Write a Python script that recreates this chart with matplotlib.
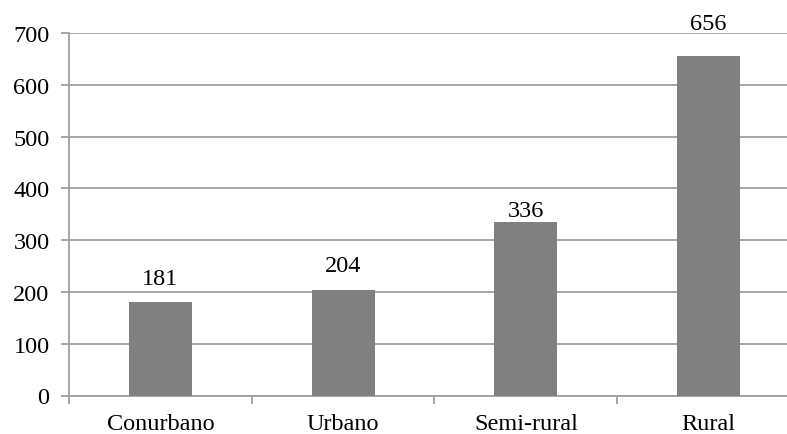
import matplotlib
matplotlib.use("Agg")
import matplotlib.pyplot as plt

categories = ["Conurbano", "Urbano", "Semi-rural", "Rural"]
values = [181, 204, 336, 656]
y_ticks = [0, 100, 200, 300, 400, 500, 600, 700]

# gap (points) between each bar top and its value label
label_gap = [9.4, 9.7, 0.3, 15.5]

plt.rcParams["font.family"] = ["Liberation Serif", "DejaVu Serif"]

W, H = 787, 435
FS = 17.5
fig = plt.figure(figsize=(W / 100, H / 100), dpi=100)
ax = fig.add_axes([69 / W, (H - 396.5) / H, 731 / W, (396.5 - 34) / H])

grid_color = "#a0a0a0"
x = list(range(len(categories)))
bars = ax.bar(x, values, width=0.345, color="#808080", zorder=3)
for xi, v, g in zip(x, values, label_gap):
    ax.annotate(str(v), (xi, v), xytext=(0, g), textcoords="offset points",
                ha="center", va="bottom", fontsize=FS, zorder=4,
                annotation_clip=False)

ax.set_xlim(-0.5, len(categories) - 0.5)
ax.set_ylim(0, 700)
ax.set_yticks(y_ticks)
ax.set_yticklabels([str(t) for t in y_ticks], fontsize=FS)
ax.yaxis.grid(True, color=grid_color, linewidth=1.3, zorder=0)

ax.set_xticks(x)
ax.set_xticklabels(categories, fontsize=FS)
ax.set_xticks([i + 0.5 for i in range(-1, len(categories))], minor=True)
ax.tick_params(axis="x", which="major", length=0, pad=12.5)
ax.tick_params(axis="x", which="minor", length=6, color=grid_color, width=1.3)
ax.tick_params(axis="y", length=6, color=grid_color, width=1.3, pad=8)

for side in ["top", "right"]:
    ax.spines[side].set_visible(False)
for side in ["left", "bottom"]:
    ax.spines[side].set_color(grid_color)
    ax.spines[side].set_linewidth(1.3)

fig.savefig("out.png", dpi=100)
